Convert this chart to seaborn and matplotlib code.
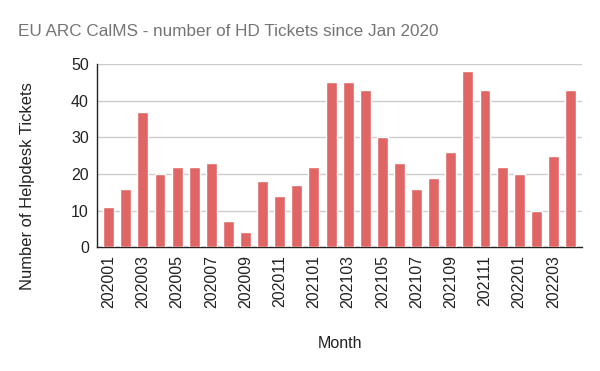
import seaborn as sns
import matplotlib.pyplot as plt
import pandas as pd

months = [
    "202001", "202002", "202003", "202004", "202005", "202006", "202007",
    "202008", "202009", "202010", "202011", "202012",
    "202101", "202102", "202103", "202104", "202105", "202106", "202107",
    "202108", "202109", "202110", "202111", "202112",
    "202201", "202202", "202203", "202204",
]
tickets = [
    11, 16, 37, 20, 22, 22, 23, 7, 4, 18, 14, 17,
    22, 45, 45, 43, 30, 23, 16, 19, 26, 48, 43, 22,
    20, 10, 25, 43,
]

df = pd.DataFrame({"Month": months, "Tickets": tickets})

sns.set_theme(style="white")
plt.rcParams['font.family'] = ['Liberation Sans', 'DejaVu Sans']

fig = plt.figure(figsize=(6, 3.71), dpi=100)
ax = fig.add_axes([0.162, 0.334, 0.808, 0.493])

sns.barplot(data=df, x="Month", y="Tickets", color="#e06666", saturation=1,
            width=0.64, ax=ax, zorder=3)

ax.set_xlim(-0.67, len(months) - 0.33)
ax.set_ylim(0, 50)
ax.set_yticks([0, 10, 20, 30, 40, 50])
ax.yaxis.grid(True, color="#cccccc", linewidth=1, zorder=0)
ax.set_axisbelow(True)

# only every other month gets a label
ticks = list(range(0, len(months), 2))
ax.set_xticks(ticks)
ax.set_xticklabels([months[i] for i in ticks], rotation=90)
ax.tick_params(axis="both", labelsize=11.5, colors="#222222", length=0, pad=6)

for side in ["top", "right"]:
    ax.spines[side].set_visible(False)
for side in ["left", "bottom"]:
    ax.spines[side].set_color("#222222")
    ax.spines[side].set_linewidth(1)

ax.set_xlabel("Month", fontsize=11.5, color="#222222", labelpad=20)
ax.set_ylabel("Number of Helpdesk Tickets", fontsize=11.9, color="#222222")
# the y title sits lower than the plot's middle, like in the original
ax.yaxis.set_label_coords(-0.128, 0.336)

fig.text(0.03, 0.915, "EU ARC CalMS - number of HD Tickets since Jan 2020",
         fontsize=12.3, color="#757575", va="center", ha="left")

fig.savefig("out.png", dpi=100)
